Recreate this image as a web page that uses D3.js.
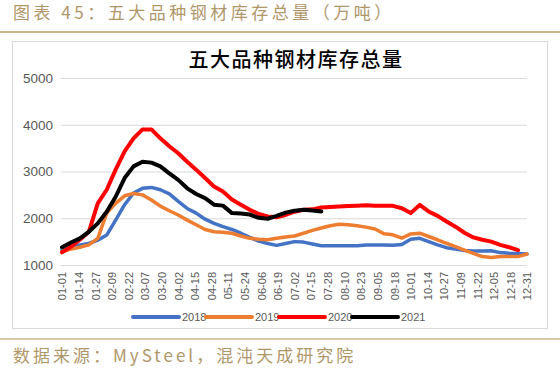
<!DOCTYPE html>
<html>
<head>
<meta charset="utf-8">
<script src="https://cdn.jsdelivr.net/npm/d3@7"></script>
<style>
  body { margin: 0; background: #fff; }
  svg text { font-family: "Noto Sans CJK SC", "DejaVu Sans", sans-serif; }
</style>
</head>
<body>
<div id="chart"></div>
<script>
// tick labels along the x axis (every 13 days)
const tickLabels = ['01-01','01-14','01-27','02-09','02-22','03-07','03-20','04-02','04-15','04-28',
  '05-11','05-24','06-06','06-19','07-02','07-15','07-28','08-10','08-23','09-05','09-18','10-01',
  '10-14','10-27','11-09','11-22','12-05','12-18','12-31'];
const yTicks = [1000, 2000, 3000, 4000, 5000];

// weekly values
const s2018 = [1320,1420,1430,1460,1530,1640,1960,2290,2540,2640,2660,2610,2520,2360,2210,2110,1980,1890,
  1820,1760,1680,1590,1510,1460,1420,1460,1500,1490,1450,1410,1410,1410,1410,1410,1430,1430,1430,1420,
  1440,1550,1570,1500,1430,1370,1340,1310,1300,1300,1305,1265,1250,1245,1235];
const s2019 = [1290,1340,1380,1430,1570,2110,2320,2480,2530,2500,2390,2260,2160,2070,1960,1860,1760,1710,
  1700,1680,1620,1570,1550,1540,1570,1600,1620,1680,1740,1790,1840,1870,1860,1840,1810,1770,1670,1645,
  1575,1665,1680,1610,1540,1465,1395,1320,1250,1180,1160,1180,1180,1180,1235];
const s2020 = [1270,1390,1540,1710,2320,2610,3040,3430,3710,3900,3900,3710,3540,3390,3210,3040,2860,2680,
  2570,2400,2290,2180,2090,2040,2020,2070,2140,2180,2190,2230,2240,2250,2260,2270,2280,2270,2265,2265,
  2215,2110,2285,2145,2050,1930,1820,1690,1590,1540,1500,1430,1380,1320];
const s2021 = [1380,1480,1570,1710,1890,2140,2460,2860,3110,3210,3190,3110,2960,2820,2640,2520,2430,2290,
  2270,2110,2100,2080,2010,1990,2050,2120,2160,2180,2165,2145];

const seriesNames = ['2018', '2019', '2020', '2021'];
const seriesColors = ['#4472C4', '#ED7D31', '#FF0000', '#000000'];
const seriesData = [s2018, s2019, s2020, s2021];

const W = 560, H = 372;
const svg = d3.select('#chart').append('svg')
  .attr('width', W).attr('height', H);

// page header
svg.append('text')
  .attr('x', 13).attr('y', 19)
  .attr('font-size', 17).attr('fill', '#b0976a')
  .attr('letter-spacing', 3.5)
  .text('图表 45：五大品种钢材库存总量（万吨）');
svg.append('line')
  .attr('x1', 0).attr('x2', W).attr('y1', 32).attr('y2', 32)
  .attr('stroke', '#cdb68f').attr('stroke-width', 2);

// chart frame
svg.append('rect')
  .attr('x', 12.5).attr('y', 41.5).attr('width', 535).attr('height', 287)
  .attr('fill', '#fff').attr('stroke', '#d9d9d9');

svg.append('text')
  .attr('x', 296).attr('y', 67)
  .attr('text-anchor', 'middle')
  .attr('font-size', 20).attr('font-weight', 500).attr('fill', '#000')
  .attr('letter-spacing', 1.5)
  .text('五大品种钢材库存总量');

const x = d3.scaleLinear().domain([0, 364]).range([62, 527]);
const y = d3.scaleLinear().domain([1000, 5000]).range([265, 78]);

// grid + y axis
const yAxis = svg.append('g')
  .attr('transform', 'translate(61,0)')
  .call(d3.axisLeft(y).tickValues(yTicks).tickSize(-466).tickFormat(d3.format('d')));
yAxis.select('.domain').remove();
yAxis.selectAll('line').attr('stroke', '#d9d9d9');
yAxis.selectAll('text').attr('font-size', 13.5).attr('fill', '#595959').attr('dx', -5)
  .style('font-family', '"Liberation Sans", sans-serif');

// x tick labels, rotated
const xAxis = svg.append('g')
  .attr('transform', 'translate(0,265)')
  .call(d3.axisBottom(x).tickValues(tickLabels.map((d, i) => i * 13))
    .tickSize(0).tickFormat((d, i) => tickLabels[i]));
xAxis.select('.domain').remove();
xAxis.selectAll('text')
  .attr('transform', 'rotate(-90)')
  .attr('text-anchor', 'end')
  .attr('x', -7).attr('y', 0).attr('dy', '0.35em')
  .attr('font-size', 11).attr('fill', '#595959')
  .style('font-family', '"Liberation Sans", sans-serif');

// series lines
const line = d3.line()
  .x((d, i) => x(i * 7))
  .y(d => y(d));

seriesData.forEach((s, k) => {
  svg.append('path')
    .datum(s)
    .attr('fill', 'none')
    .attr('stroke', seriesColors[k])
    .attr('stroke-width', k >= 2 ? 4 : 3.5)
    .attr('stroke-linejoin', 'round')
    .attr('stroke-linecap', 'round')
    .attr('d', line);
});

// legend
const legend = svg.append('g').attr('transform', 'translate(133,317)');
seriesNames.forEach((name, k) => {
  const g = legend.append('g').attr('transform', 'translate(' + (k * 73) + ',0)');
  g.append('line')
    .attr('x1', 0).attr('x2', 46).attr('y1', 0).attr('y2', 0)
    .attr('stroke', seriesColors[k]).attr('stroke-width', 4)
    .attr('stroke-linecap', 'round');
  g.append('text')
    .attr('x', 49).attr('y', 4)
    .attr('font-size', 11).attr('fill', '#595959')
    .style('font-family', '"Liberation Sans", sans-serif')
    .text(name);
});

// source footer
svg.append('line')
  .attr('x1', 0).attr('x2', W).attr('y1', 339).attr('y2', 339)
  .attr('stroke', '#cdb68f').attr('stroke-width', 1.5);
svg.append('text')
  .attr('x', 13).attr('y', 362)
  .attr('font-size', 17).attr('fill', '#b0976a')
  .attr('letter-spacing', 3)
  .text('数据来源：MySteel，混沌天成研究院');
</script>
</body>
</html>
